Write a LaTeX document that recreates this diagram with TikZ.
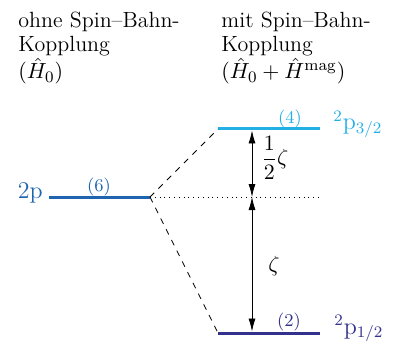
\documentclass[tikz,border=0pt]{standalone}
\usepackage{amsmath,amssymb}
\usepackage{tikz}
\usepackage{xcolor}
\definecolor{levelblue}{RGB}{30, 100, 175}
\definecolor{levelcyan}{RGB}{35, 175, 230}
\definecolor{levelindigo}{RGB}{50, 50, 140}
\usetikzlibrary{positioning,arrows.meta}

\tikzset{
    level/.style={line width=1.5pt},
    degen/.style={font=\fontsize{9}{10}\selectfont, inner sep=0pt},
    header/.style={align=left, anchor=north west, inner sep=0pt,
        font=\fontsize{11}{11.8}\selectfont},
    gap/.style={{Latex[length=6.5pt,width=3.5pt]}-{Latex[length=6.5pt,width=3.5pt]}, thin},
    gaplabel/.style={anchor=west, inner sep=0pt, font=\fontsize{11}{12}\selectfont}
}

\begin{document}
\begin{tikzpicture}[x=0.5pt, y=-0.5pt]
    \useasboundingbox (0,0) rectangle (400,347);

    % Headers
    \node[header] (hdrOhne) at (18,12) {ohne Spin--Bahn-\\Kopplung\\$(\hat{H}_0)$};
    \node[header] (hdrMit) at (221,12) {mit Spin--Bahn-\\Kopplung\\$(\hat{H}_0 + \hat{H}^{\mathrm{mag}})$};

    % Levels
    \coordinate (p0L) at (49,197);
    \coordinate (p0R) at (150,197);
    \coordinate (p32L) at (218,129);
    \coordinate (p32R) at (320,129);
    \coordinate (p12L) at (218,333);
    \coordinate (p12R) at (320,333);
    \coordinate (dotEnd) at (320,197);

    \draw[level, levelblue] (p0L) -- (p0R);
    \draw[level, levelcyan] (p32L) -- (p32R);
    \draw[level, levelindigo] (p12L) -- (p12R);

    % Splitting
    \draw[dashed, thin] (p0R) -- (p32L);
    \draw[dashed, thin] (p0R) -- (p12L);
    \draw[dotted, thin] (p0R) -- (dotEnd);

    % Level labels
    \node[anchor=base east, levelblue, font=\large, inner sep=0pt] (lbl2p) at (43,198) {2p};
    \node[anchor=base west, levelcyan, font=\large, inner sep=0pt] (lbl32) at (333,130) {$^2\mathrm{p}_{3/2}$};
    \node[anchor=base west, levelindigo, font=\large, inner sep=0pt] (lbl12) at (334,334) {$^2\mathrm{p}_{1/2}$};

    % Degeneracies
    \node[degen, levelblue] (deg6) at (99,187) {(6)};
    \node[degen, levelcyan] (deg4) at (290,119) {(4)};
    \node[degen, levelindigo] (deg2) at (289,322) {(2)};

    % Energy gaps
    \coordinate (a32) at (252,130.5);
    \coordinate (a0) at (252,197);
    \coordinate (a12) at (252,331.5);
    \draw[gap] (a32) -- (a0);
    \draw[gap] (a0) -- (a12);
    \node[gaplabel] (gapHalf) at (261,158) {$\displaystyle\frac{1}{2}\zeta$};
    \node[gaplabel] (gapFull) at (268,266) {$\zeta$};
\end{tikzpicture}
\end{document}
